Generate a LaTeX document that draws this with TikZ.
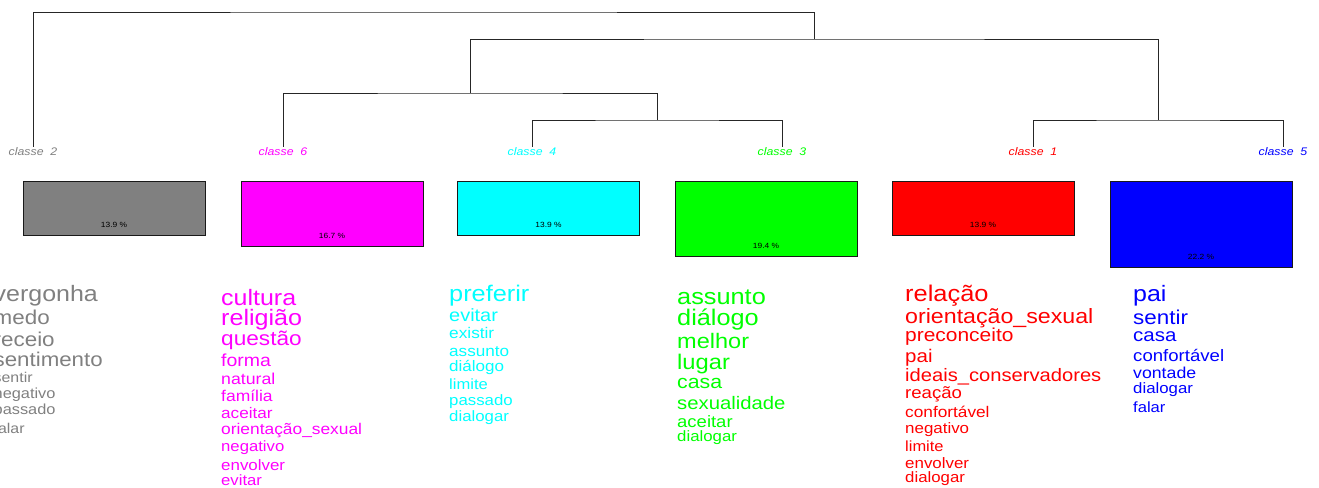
\documentclass[tikz,border=0pt]{standalone}
\usepackage{fontspec}
\setmainfont{Liberation Sans}
\usepackage{xcolor}
\usepackage{tikz}
\usetikzlibrary{positioning}

\definecolor{cinza}{HTML}{808080}
\definecolor{magenta6}{HTML}{FF00FF}
\definecolor{ciano4}{HTML}{00FFFF}
\definecolor{verde3}{HTML}{00FF00}
\definecolor{vermelho1}{HTML}{FF0000}
\definecolor{azul5}{HTML}{0000FF}
\newcommand{\largo}[1]{\scalebox{1.12}[1]{#1}}

\begin{document}
\begin{tikzpicture}[x=1pt,y=-1pt]
\tikzstyle{ramo}=[draw=black!85, line width=0.9pt]
\tikzstyle{rotulo}=[inner sep=0pt, anchor=base, font=\fontsize{11}{11}\selectfont\itshape]
\tikzstyle{caixa}=[draw=black!90, line width=0.8pt, minimum width=182pt, inner sep=0pt, anchor=north]
\tikzstyle{pct}=[inner sep=0pt, anchor=base, font=\fontsize{7.5}{7.5}\selectfont]
\tikzstyle{palavra}=[inner sep=0pt, anchor=base west]
\clip (0,0) rectangle (1319,487);

% dendrograma
\node[rotulo, text=cinza] (c2) at (33,155) {\largo{classe\ \ 2}};
\node[rotulo, text=magenta6] (c6) at (283,155) {\largo{classe\ \ 6}};
\node[rotulo, text=ciano4] (c4) at (532,155) {\largo{classe\ \ 4}};
\node[rotulo, text=verde3] (c3) at (782,155) {\largo{classe\ \ 3}};
\node[rotulo, text=vermelho1] (c1) at (1033,155) {\largo{classe\ \ 1}};
\node[rotulo, text=azul5] (c5) at (1283,155) {\largo{classe\ \ 5}};
\coordinate (j43) at (657,120);
\coordinate (j643) at (470,93);
\coordinate (j15) at (1158,120);
\coordinate (jdir) at (814,39);
\coordinate (jraiz) at (423.5,12);
\draw[ramo] (c4.north) |- (j43) -| (c3.north);
\draw[ramo] (c6.north) |- (j643) -| (j43);
\draw[ramo] (c1.north) |- (j15) -| (c5.north);
\draw[ramo] (j643) |- (jdir) -| (j15);
\draw[ramo] (c2.north) |- (jraiz) -| (jdir);

% caixas
\node[caixa, fill=cinza, minimum height=54pt] (b2) at (114,181) {};
\node[caixa, fill=magenta6, minimum height=65pt] (b6) at (332,181) {};
\node[caixa, fill=ciano4, minimum height=54pt] (b4) at (548.5,181) {};
\node[caixa, fill=verde3, minimum height=75pt] (b3) at (766,181) {};
\node[caixa, fill=vermelho1, minimum height=54pt] (b1) at (983,181) {};
\node[caixa, fill=azul5, minimum height=86pt] (b5) at (1201,181) {};
\node[pct] (p2) at ([yshift=8.5pt]b2.south) {\largo{13.9 \%}};
\node[pct] (p6) at ([yshift=8.5pt]b6.south) {\largo{16.7 \%}};
\node[pct] (p4) at ([yshift=8.5pt]b4.south) {\largo{13.9 \%}};
\node[pct] (p3) at ([yshift=8.5pt]b3.south) {\largo{19.4 \%}};
\node[pct] (p1) at ([yshift=8.5pt]b1.south) {\largo{13.9 \%}};
\node[pct] (p5) at ([yshift=8.5pt]b5.south) {\largo{22.2 \%}};

% palavras
\foreach \w/\s/\y [count=\i] in {vergonha/22.3/301.7, medo/20/324.3, receio/20/346.7, sentimento/19.9/366.7, sentir/14.2/382.3, negativo/14.6/398.3, passado/14.6/414.3, falar/14.2/433.3}
  \node[palavra, text=cinza, font=\fontsize{\s}{\s}\selectfont] (w2-\i) at (-6.5,\y) {\largo{\w}};
\foreach \w/\s/\y [count=\i] in {cultura/22.3/305, religião/22.4/325, questão/20.2/345.7, forma/17.4/366.7, natural/15.8/384.3, família/15.6/401, aceitar/15.3/418.3, orientação\_sexual/15.5/434.3, negativo/14.9/451, envolver/15.1/470, evitar/14.9/485}
  \node[palavra, text=magenta6, font=\fontsize{\s}{\s}\selectfont] (w6-\i) at (221,\y) {\largo{\w}};
\foreach \w/\s/\y [count=\i] in {preferir/22.6/301.7, evitar/17.8/321.7, existir/15.4/338.3, assunto/15.3/356, diálogo/15.2/371, limite/14.8/389.3, passado/15/405, dialogar/15/421.7}
  \node[palavra, text=ciano4, font=\fontsize{\s}{\s}\selectfont] (w4-\i) at (449,\y) {\largo{\w}};
\foreach \w/\s/\y [count=\i] in {assunto/22.6/304.3, diálogo/22.6/325, melhor/21/348.3, lugar/21.2/369, casa/19/388.3, sexualidade/18.1/409.3, aceitar/16.5/427.7, dialogar/15/441.7}
  \node[palavra, text=verde3, font=\fontsize{\s}{\s}\selectfont] (w3-\i) at (677,\y) {\largo{\w}};
\foreach \w/\s/\y [count=\i] in {relação/22.7/301.7, orientação\_sexual/20.7/323.3, preconceito/18.7/341.7, pai/18.3/362.3, ideais\_conservadores/18/381.7, reação/16.6/398.3, confortável/15.4/417.7, negativo/15.1/433.3, limite/14.7/451.7, envolver/15.1/468.3, dialogar/15/482.3}
  \node[palavra, text=vermelho1, font=\fontsize{\s}{\s}\selectfont] (w1-\i) at (905,\y) {\largo{\w}};
\foreach \w/\s/\y [count=\i] in {pai/22.3/301.7, sentir/20/324.3, casa/18.3/341.7, confortável/16.6/361, vontade/15.8/378.3, dialogar/15/393.3, falar/14.8/412.3}
  \node[palavra, text=azul5, font=\fontsize{\s}{\s}\selectfont] (w5-\i) at (1133,\y) {\largo{\w}};
\end{tikzpicture}
\end{document}
